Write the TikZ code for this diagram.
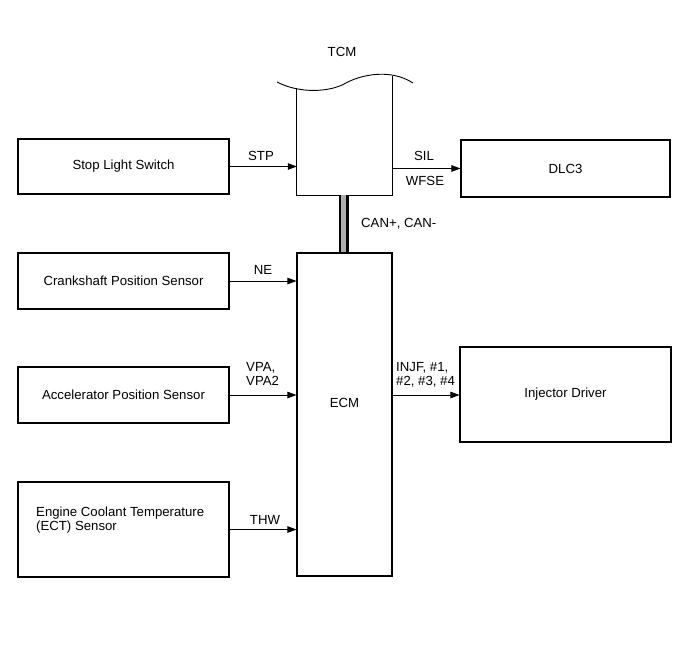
\documentclass[tikz,border=0pt]{standalone}
\usepackage{fontspec}
\setmainfont{Liberation Sans}
\usetikzlibrary{arrows.meta}
\begin{document}
\begin{tikzpicture}[x=1pt,y=-1pt,
  every node/.style={font=\fontsize{13.2}{14.5}\selectfont, inner sep=0pt},
  blk/.style={draw, line width=1.1pt, rectangle, minimum width=211pt},
  arr/.style={line width=0.8pt, -{Triangle[length=9pt,width=6.5pt]}}]
\useasboundingbox (0,0) rectangle (690,660);
% sensor / actuator boxes
\node[blk, minimum height=55pt] (sls) at (123.5,166.5) {Stop Light Switch};
\node[blk, minimum width=209pt, minimum height=57pt] (dlc) at (565.5,168.5) {DLC3};
\node[blk, minimum height=56pt] (crank) at (123.5,281) {Crankshaft Position Sensor};
\node[blk, minimum height=56pt] (accel) at (123.5,395) {Accelerator Position Sensor};
\node[blk, minimum height=95pt] (ect) at (123.5,529.5) {};
\node[anchor=west, align=left] (ecttext) at (36,520) {Engine Coolant Temperature\\(ECT) Sensor};
\node[blk, minimum width=211pt, minimum height=95pt] (inj) at (565.5,394.5) {Injector Driver};
% ECM
\node[blk, minimum width=95pt, minimum height=323pt] (ecm) at (344.5,414.5) {};
\node (ecmtext) at (344.5,403) {ECM};
% TCM (wavy top)
\node[minimum width=95pt, minimum height=107pt] (tcm) at (344.5,141.5) {};
\draw[line width=1.1pt] (tcm.north west) -- (tcm.south west) -- (tcm.south east) -- ([yshift=12pt]tcm.north east);
\draw[line width=0.9pt] (277,82) .. controls (300,94) and (330,92) .. (345,83.5) .. controls (360,75) and (390,68) .. (413,83);
\node (tcmtext) at (342,52) {TCM};
% CAN bus
\coordinate (canT) at ([xshift=-0.5pt]tcm.south);
\coordinate (canB) at ([xshift=-0.5pt]ecm.north);
\fill[gray!65] ([xshift=-4pt]canT) rectangle ([xshift=3pt]canB);
\draw[line width=1.4pt] ([xshift=-4pt]canT) -- ([xshift=-4pt]canB);
\draw[line width=3pt] ([xshift=3.5pt]canT) -- ([xshift=3.5pt]canB);
\node[anchor=west] (cantext) at (361,224) {CAN+, CAN-};
% connectors
\draw[arr] (sls.east) -- (sls.east -| tcm.west);
\draw[arr] (dlc.west -| tcm.east) -- (dlc.west);
\draw[arr] (crank.east) -- (crank.east -| ecm.west);
\draw[arr] (accel.east) -- (accel.east -| ecm.west);
\draw[arr] (ect.east) -- (ect.east -| ecm.west);
\draw[arr] (accel.east -| ecm.east) -- (accel.east -| inj.west);
% connector labels
\node (stp) at (261,156) {STP};
\node (sil) at (424,156) {SIL};
\node (wfse) at (425,181) {WFSE};
\node (ne) at (263,270) {NE};
\node[anchor=west, align=left] (vpa) at (246,374) {VPA,\\VPA2};
\node (thw) at (265,520) {THW};
\node[anchor=west, align=left] (injf) at (396,375) {INJF, \#1,\\\#2, \#3, \#4};
\end{tikzpicture}
\end{document}
